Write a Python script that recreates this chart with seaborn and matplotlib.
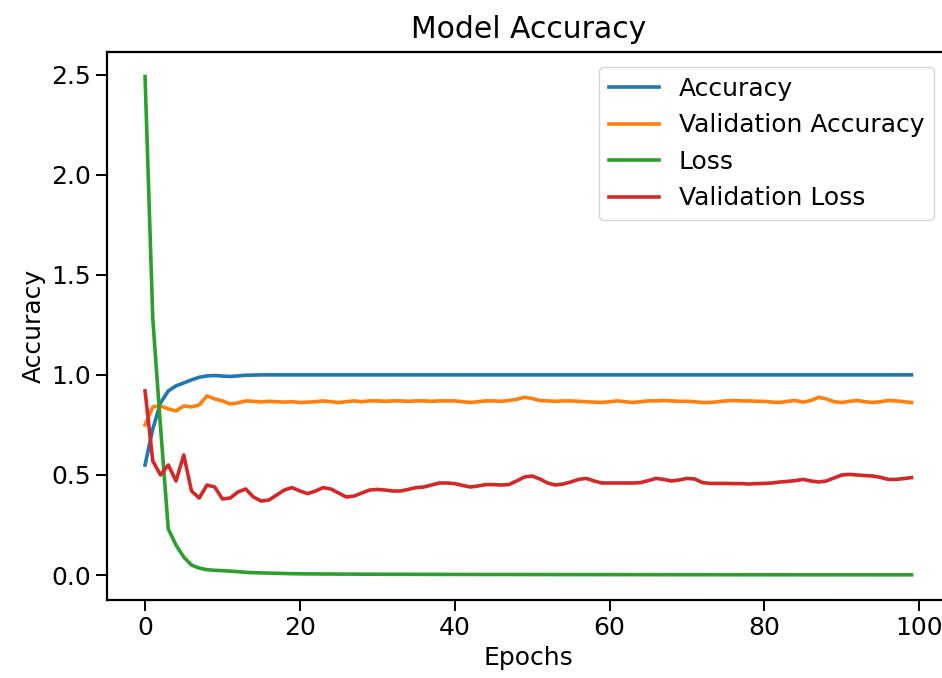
import matplotlib
matplotlib.use("Agg")
import matplotlib.pyplot as plt
import pandas as pd
import seaborn as sns


epochs = list(range(100))

accuracy = [0.55, 0.73, 0.86, 0.92, 0.945, 0.96, 0.975, 0.988, 0.995, 0.997,
            0.994, 0.992, 0.995, 0.998, 0.999] + [1.0] * 85

val_accuracy = [0.75, 0.84, 0.845, 0.83, 0.82, 0.845, 0.84, 0.85, 0.895, 0.88,
                0.87, 0.855, 0.86, 0.87, 0.868, 0.865, 0.868, 0.866, 0.864, 0.866,
                0.862, 0.864, 0.866, 0.87, 0.866, 0.862, 0.866, 0.87, 0.866, 0.87,
                0.87, 0.868, 0.87, 0.87, 0.868, 0.87, 0.87, 0.868, 0.87, 0.87,
                0.87, 0.866, 0.862, 0.866, 0.87, 0.87, 0.868, 0.872, 0.878, 0.888,
                0.882, 0.872, 0.87, 0.868, 0.87, 0.87, 0.868, 0.866, 0.864, 0.862,
                0.866, 0.87, 0.866, 0.862, 0.866, 0.87, 0.87, 0.872, 0.87, 0.868,
                0.868, 0.866, 0.862, 0.862, 0.866, 0.87, 0.872, 0.87, 0.87, 0.868,
                0.868, 0.864, 0.862, 0.868, 0.872, 0.864, 0.872, 0.888, 0.88, 0.866,
                0.862, 0.868, 0.872, 0.866, 0.862, 0.866, 0.872, 0.87, 0.866, 0.862]

loss = [2.49, 1.28, 0.74, 0.23, 0.15, 0.09, 0.05, 0.035, 0.027, 0.024,
        0.022, 0.02, 0.017, 0.014, 0.012, 0.011, 0.01, 0.009, 0.008, 0.007,
        0.0065, 0.006, 0.006, 0.0055, 0.0055, 0.005, 0.005, 0.005, 0.0045, 0.0045,
        0.0045, 0.004, 0.004, 0.004, 0.004, 0.0038, 0.0037, 0.0036, 0.0035, 0.0035,
        0.0034, 0.0033, 0.0033, 0.0032, 0.0031, 0.003, 0.003, 0.003, 0.0029, 0.0029,
        0.0028, 0.0028, 0.0027, 0.0027, 0.0026, 0.0026, 0.0025, 0.0025, 0.0025, 0.0024,
        0.0024, 0.0023, 0.0023, 0.0023, 0.0022, 0.0022, 0.0022, 0.0021, 0.0021, 0.0021,
        0.002, 0.002, 0.002, 0.002, 0.0019, 0.0019, 0.0019, 0.0018, 0.0018, 0.0018,
        0.0018, 0.0017, 0.0017, 0.0017, 0.0017, 0.0016, 0.0016, 0.0016, 0.0016, 0.0016,
        0.0015, 0.0015, 0.0015, 0.0015, 0.0015, 0.0014, 0.0014, 0.0014, 0.0014, 0.0014]

val_loss = [0.92, 0.57, 0.5, 0.55, 0.47, 0.6, 0.42, 0.385, 0.45, 0.44,
            0.38, 0.385, 0.415, 0.43, 0.39, 0.37, 0.375, 0.4, 0.425, 0.437,
            0.42, 0.407, 0.42, 0.437, 0.43, 0.41, 0.39, 0.395, 0.41, 0.425,
            0.428, 0.425, 0.42, 0.42, 0.428, 0.437, 0.44, 0.45, 0.46, 0.46,
            0.457, 0.448, 0.44, 0.445, 0.452, 0.452, 0.45, 0.452, 0.47, 0.49,
            0.495, 0.48, 0.46, 0.45, 0.455, 0.465, 0.478, 0.483, 0.47, 0.46,
            0.46, 0.46, 0.46, 0.46, 0.462, 0.472, 0.483, 0.478, 0.47, 0.475,
            0.483, 0.48, 0.462, 0.458, 0.458, 0.458, 0.457, 0.457, 0.455, 0.457,
            0.458, 0.46, 0.465, 0.468, 0.472, 0.478, 0.47, 0.465, 0.47, 0.485,
            0.5, 0.503, 0.5, 0.497, 0.495, 0.488, 0.478, 0.478, 0.482, 0.487]

series = {
    "Accuracy": accuracy,
    "Validation Accuracy": val_accuracy,
    "Loss": loss,
    "Validation Loss": val_loss,
}

frames = []
for name, values in series.items():
    frames.append(pd.DataFrame({"Epochs": epochs, "value": values, "metric": name}))
history = pd.concat(frames, ignore_index=True)

fig = plt.figure(figsize=(9.42, 6.78), dpi=100)
ax = fig.add_axes([0.1133, 0.115, 0.895, 0.8087])

sns.lineplot(data=history, x="Epochs", y="value", hue="metric",
             palette=["#1f77b4", "#ff7f0e", "#2ca02c", "#d62728"],
             linewidth=2.6, ax=ax)

ax.set_title("Model Accuracy", fontsize=21.5, pad=10)
ax.set_xlabel("Epochs", fontsize=18)
ax.set_ylabel("Accuracy", fontsize=18)
ax.tick_params(labelsize=18, width=1.4, length=8)
for spine in ax.spines.values():
    spine.set_linewidth(1.6)
ax.set_xticks([0, 20, 40, 60, 80, 100])
ax.set_yticks([0.0, 0.5, 1.0, 1.5, 2.0, 2.5])
ax.set_xlim(-4.95, 103.95)
ax.set_ylim(-0.1245, 2.614)
ax.legend(title=None, fontsize=18, loc="upper right", labelspacing=0.5,
          bbox_to_anchor=(0.9905, 0.986), borderaxespad=0.3)

plt.savefig("out.png", dpi=100)
